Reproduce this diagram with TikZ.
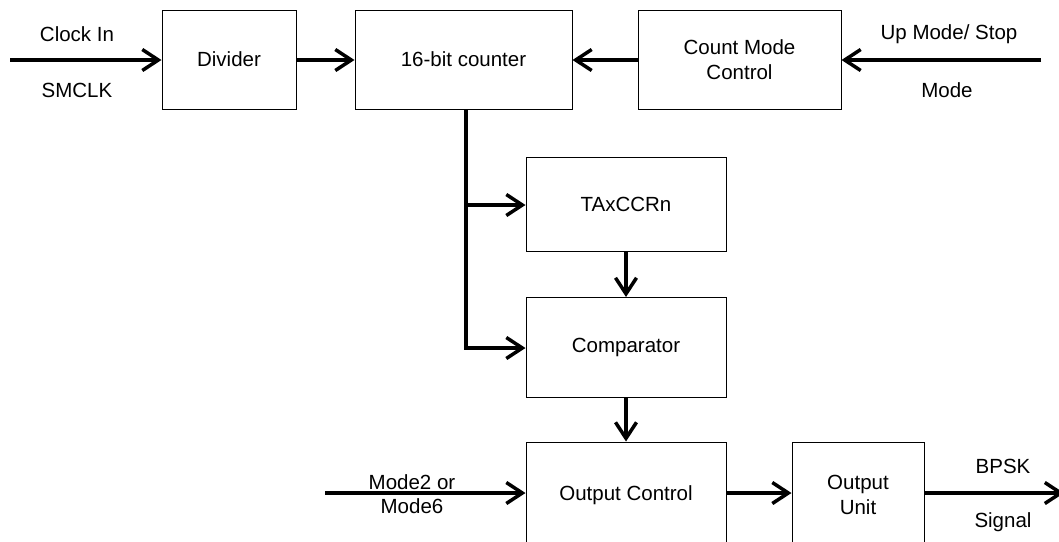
\documentclass[tikz,border=0pt]{standalone}
\usepackage{fontspec}
\setmainfont{Liberation Sans}
\usetikzlibrary{arrows.meta}
\begin{document}
\begin{tikzpicture}[x=1pt,y=-1pt,
  blk/.style={draw, line width=1pt, minimum width=#1, inner sep=0pt, align=center},
  lbl/.style={inner sep=0pt, align=center},
  flow/.style={line width=4pt, -{Straight Barb[length=16pt,width=21pt,line width=3.5pt]}},
  wire/.style={line width=4pt}]
\useasboundingbox (0,0) rectangle (1059,541);
\clip (0,0) rectangle (1059,541);
\fontsize{20.5}{24.5}\selectfont
\node[blk=134pt, minimum height=99pt] (div) at (229,59.5) {Divider};
\node[blk=217pt, minimum height=99pt] (cnt) at (463.5,59.5) {16-bit counter};
\node[blk=203pt, minimum height=99pt] (cmc) at (739.5,59.5) {Count Mode\\Control};
\node[blk=200pt, minimum height=94pt] (tax) at (626,204) {TAxCCRn};
\node[blk=200pt, minimum height=100pt] (cmp) at (626,347.5) {Comparator};
\node[blk=200pt, minimum height=106pt] (oc) at (626,495) {Output Control};
\node[blk=132pt, minimum height=106pt] (ou) at (858,495) {Output\\Unit};
\coordinate (clk) at (10,60);
\coordinate (up) at (1041,60);
\coordinate (j0) at (466,109);
\coordinate (j1) at (466,205);
\coordinate (j2) at (466,348);
\coordinate (mode) at (325,493);
\coordinate (out) at (1064,493);
\draw[flow] (clk) -- (div.west |- clk);
\draw[flow] (div.east |- clk) -- (cnt.west |- clk);
\draw[flow] (cmc.west |- clk) -- (cnt.east |- clk);
\draw[flow] (up) -- (cmc.east |- up);
\draw[wire] (j0) -- (j2);
\draw[flow] (j1) -- (tax.west |- j1);
\draw[flow] ([xshift=-2pt]j2) -- (cmp.west |- j2);
\draw[flow] (tax.south) -- (cmp.north);
\draw[flow] (cmp.south) -- (oc.north);
\draw[flow] (mode) -- (oc.west |- mode);
\draw[flow] (oc.east |- mode) -- (ou.west |- mode);
\draw[flow] (ou.east |- mode) -- (out);
\node[lbl] (tclk) at (77,34) {Clock In};
\node[lbl] (tsm) at (77,90) {SMCLK};
\node[lbl] (tup) at (949,34) {Up Mode/ Stop};
\node[lbl] (tmode) at (947,90) {Mode};
\node[lbl] (tm26) at (412,494) {Mode2 or\\Mode6};
\node[lbl] (tbpsk) at (1003,466) {BPSK};
\node[lbl] (tsig) at (1003,522) {Signal};
\end{tikzpicture}
\end{document}
